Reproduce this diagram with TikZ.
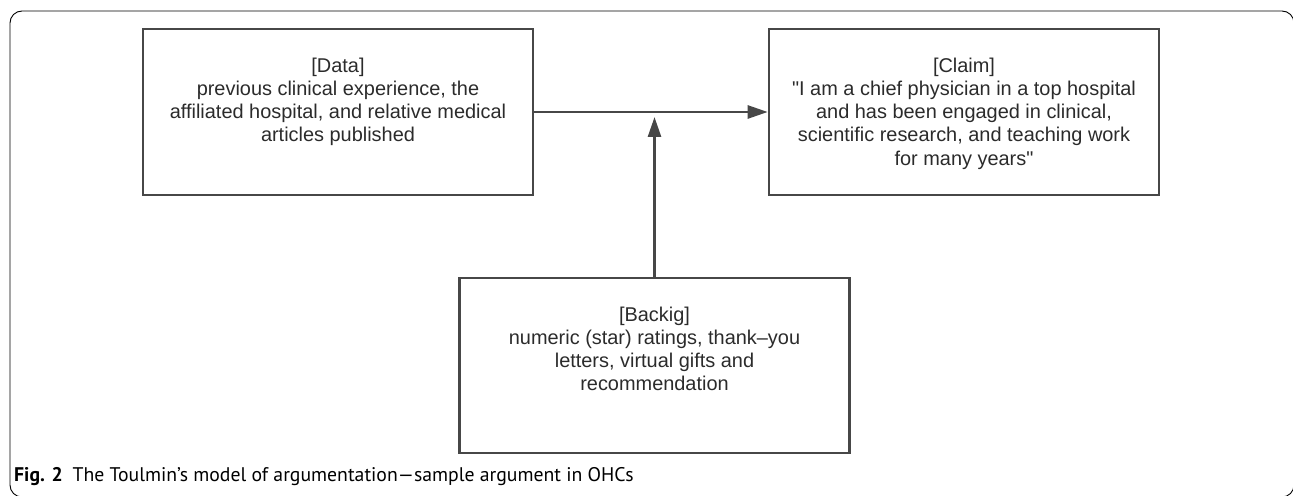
\documentclass[tikz,border=0pt]{standalone}
\usepackage{fontspec}
\newfontfamily\boxfont{Liberation Sans}
\newfontfamily\capfont{PT Sans}
\usetikzlibrary{positioning,arrows.meta}
\definecolor{linegray}{HTML}{474747}
\definecolor{textgray}{HTML}{2B2B2B}
\tikzset{
  ramec/.style={draw=linegray,line width=2.6bp,minimum width=390bp,minimum height=166bp,inner sep=0pt},
  obsah/.style={align=center,inner sep=0pt,text=textgray,font=\boxfont\fontsize{20}{23.3}\selectfont},
  sipka/.style={-{Triangle[length=20bp,width=13bp]},draw=linegray,line width=2.6bp},
}

\begin{document}
\begin{tikzpicture}[x=1bp,y=-1bp]
  \useasboundingbox (0,0) rectangle (1293,496);
  \draw[rounded corners=12bp,line width=0.9bp] (10,11) rectangle (1294,497);
  \node[ramec] (data) at (338,112) {};
  \node[ramec] (claim) at (964,112) {};
  \node[ramec,minimum height=175bp] (back) at (654.5,365.5) {};
  \node[obsah,below=30bp of data.north] (dataT) {[Data]\\previous clinical experience, the\\affiliated hospital, and relative medical\\articles published};
  \node[obsah,below=30bp of claim.north] (claimT) {[Claim]\\"I am a chief physician in a top hospital\\and has been engaged in clinical,\\scientific research, and teaching work\\for many years"};
  \node[obsah,below=30bp of back.north] (backT) {[Backig]\\numeric (star) ratings, thank–you\\letters, virtual gifts and\\recommendation};
  \draw[sipka] (data.east) -- (claim.west);
  \path (back.north |- data.east) ++(0,5) coordinate (spoj);
  \draw[sipka] (back.north) -- (spoj);
  \node[anchor=base west,inner sep=0pt,font=\capfont\fontsize{19.8}{23}\selectfont] (popis) at (14,481) {\textbf{Fig. 2}\enspace The Toulmin’s model of argumentation—sample argument in OHCs};
\end{tikzpicture}
\end{document}
